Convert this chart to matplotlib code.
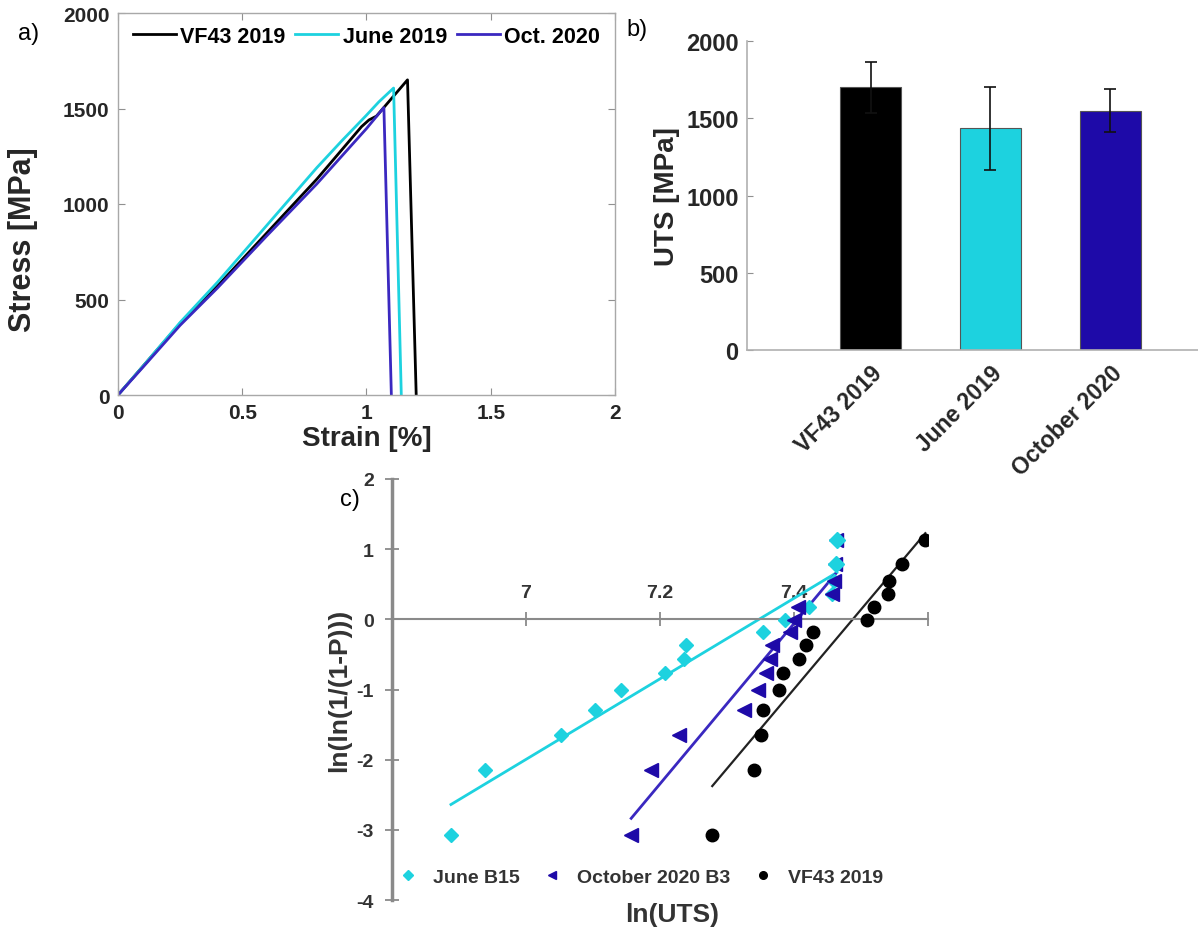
import numpy as np
import matplotlib
matplotlib.use('Agg')
import matplotlib.pyplot as plt
from matplotlib.lines import Line2D

plt.rcParams['font.family'] = ['Liberation Sans', 'DejaVu Sans']
plt.rcParams['axes.unicode_minus'] = False

# a) stress-strain curves
strain_vf43 = [0, 0.1, 0.25, 0.4, 0.6, 0.8, 0.98, 1.01, 1.04, 1.165, 1.20]
stress_vf43 = [0, 150, 375, 570, 850, 1130, 1405, 1440, 1460, 1650, 0]
strain_june = [0, 0.1, 0.25, 0.4, 0.6, 0.8, 0.9, 1.0, 1.05, 1.109, 1.14]
stress_june = [0, 150, 380, 590, 890, 1190, 1330, 1465, 1535, 1607, 0]
strain_oct = [0, 0.1, 0.25, 0.4, 0.6, 0.8, 1.0, 1.07, 1.10]
stress_oct = [0, 145, 365, 560, 835, 1105, 1395, 1505, 0]

# b) UTS bars
bar_labels = ['VF43 2019', 'June 2019', 'October 2020']
uts_mean = [1700, 1435, 1550]
uts_err = [165, 268, 140]

# c) Weibull plot, ln(UTS) per rank
rank_y = [-3.07, -2.15, -1.65, -1.29, -1.01, -0.77, -0.56, -0.37,
          -0.18, -0.01, 0.17, 0.36, 0.55, 0.79, 1.13]
ln_june = [6.888, 6.939, 7.052, 7.103, 7.142, 7.208, 7.236, 7.239,
           7.354, 7.387, 7.422, 7.456, 7.459, 7.463, 7.464]
ln_oct = [7.157, 7.187, 7.228, 7.326, 7.347, 7.358, 7.364, 7.367,
          7.394, 7.400, 7.406, 7.457, 7.459, 7.461, 7.462]
ln_vf43 = [7.278, 7.340, 7.350, 7.353, 7.378, 7.384, 7.407, 7.418,
           7.428, 7.509, 7.519, 7.541, 7.542, 7.561, 7.596]

BLACK = '#000000'
CYAN = '#1dd2df'
BLUE = '#1e0aa8'
BLUE_LINE = '#3a28c0'
W, H = 1198, 928


def frac(x0, y0, x1, y1):
    return [x0 / W, 1 - y1 / H, (x1 - x0) / W, (y1 - y0) / H]


fig = plt.figure(figsize=(W / 100, H / 100), dpi=100)

# ---- a) ----
ax = fig.add_axes(frac(118, 14, 615, 396))
ax.plot(strain_vf43, stress_vf43, color=BLACK, lw=2, label='VF43 2019')
ax.plot(strain_june, stress_june, color=CYAN, lw=2, label='June 2019')
ax.plot(strain_oct, stress_oct, color=BLUE_LINE, lw=2, label='Oct. 2020')
ax.set_xlim(0, 2)
ax.set_ylim(0, 2000)
ax.set_xticks([0, 0.5, 1, 1.5, 2])
ax.set_xticklabels(['0', '0.5', '1', '1.5', '2'])
ax.set_yticks([0, 500, 1000, 1500, 2000])
ax.tick_params(direction='in', top=True, right=True, length=5, width=0.8,
               color='#909090', labelsize=15, pad=6)
for lab in ax.get_xticklabels() + ax.get_yticklabels():
    lab.set_fontweight('bold')
    lab.set_color('#262626')
for s in ax.spines.values():
    s.set_color('#a8a8a8')
    s.set_linewidth(1)
ax.set_xlabel('Strain [%]', fontsize=20, fontweight='bold', color='#262626', labelpad=2)
ax.set_ylabel('Stress [MPa]', fontsize=22, fontweight='bold', color='#262626')
ax.yaxis.set_label_coords(-0.16, 0.41)
ax.legend(loc='upper center', bbox_to_anchor=(0.5, 1.0), ncol=3, frameon=False,
          prop={'weight': 'bold', 'size': 15.5}, handlelength=2.0, handletextpad=0.2,
          columnspacing=0.45, borderaxespad=0.2)
fig.text(18 / W, 1 - 34 / H, 'a)', fontsize=17, va='center', ha='left')

# ---- b) ----
bx = fig.add_axes(frac(747, 42, 1198, 351))
pos = np.arange(1, len(uts_mean) + 1)
bx.bar(pos, uts_mean, width=0.51, color=[BLACK, CYAN, BLUE],
       edgecolor='#555555', linewidth=0.8, zorder=2)
bx.errorbar(pos, uts_mean, yerr=uts_err, fmt='none', ecolor='#111111',
            elinewidth=1.2, capsize=4, capthick=1.2, zorder=3)
bx.set_xlim(-0.03, 3.73)
bx.set_ylim(0, 2000)
bx.set_yticks([0, 500, 1000, 1500, 2000])
bx.set_xticks(pos)
bx.set_xticklabels(bar_labels, rotation=45, ha='right', rotation_mode='anchor')
bx.tick_params(axis='x', length=0, labelsize=16.5, pad=8)
bx.tick_params(axis='y', direction='in', length=4, color='#909090', labelsize=17, pad=6)
for lab in bx.get_xticklabels() + bx.get_yticklabels():
    lab.set_fontweight('bold')
    lab.set_color('#262626')
for k in ['top', 'right']:
    bx.spines[k].set_visible(False)
for k in ['left', 'bottom']:
    bx.spines[k].set_color('#b0b0b0')
    bx.spines[k].set_linewidth(1.2)
bx.set_ylabel('UTS [MPa]', fontsize=20, fontweight='bold', color='#262626', labelpad=4)
fig.text(637 / W, 1 - 30 / H, 'b)', fontsize=17, va='center', ha='center')

# ---- c) ----
cx = fig.add_axes(frac(392, 480, 928, 901))
cx.plot(ln_june, rank_y, linestyle='none', marker='D', ms=7.5, color=CYAN, zorder=3)
cx.plot(ln_oct, rank_y, linestyle='none', marker='<', ms=9.5, color=BLUE, zorder=4)
cx.plot(ln_june[-2:], rank_y[-2:], linestyle='none', marker='D', ms=8, color=CYAN, zorder=5)
cx.plot(ln_vf43, rank_y, linestyle='none', marker='o', ms=9, color=BLACK, zorder=4)
for xs, col, lw in [(ln_june, CYAN, 2), (ln_oct, BLUE_LINE, 2), (ln_vf43, '#222222', 1.6)]:
    k, b0 = np.polyfit(xs, rank_y, 1)
    xx = np.array([min(xs), max(xs)])
    cx.plot(xx, k * xx + b0, color=col, lw=lw, zorder=2)
cx.set_xlim(6.8, 7.6)
cx.set_ylim(-4, 2)
cx.spines['top'].set_position(('data', 0))
cx.spines['bottom'].set_visible(False)
cx.spines['right'].set_visible(False)
cx.spines['top'].set_color('#8a8a8a')
cx.spines['top'].set_linewidth(1.5)
cx.spines['left'].set_color('#8a8a8a')
cx.spines['left'].set_linewidth(2.5)
cx.xaxis.set_ticks_position('top')
cx.set_xticks([6.8, 7.0, 7.2, 7.4, 7.6])
cx.set_xticklabels(['', '7', '7.2', '7.4', ''])
cx.set_yticks([-4, -3, -2, -1, 0, 1, 2])
cx.set_yticklabels(['-4', '-3', '-2', '-1', '0', '1', '2'])
cx.tick_params(direction='inout', length=10, width=1.3, color='#8a8a8a',
               labelsize=14, labelcolor='#333333')
cx.tick_params(axis='x', pad=8)
cx.tick_params(axis='y', pad=8)
for lab in cx.get_xticklabels() + cx.get_yticklabels():
    lab.set_fontweight('bold')
cx.set_ylabel('ln(ln(1/(1-P)))', fontsize=19, fontweight='bold', color='#333333', labelpad=4)
handles = [
    Line2D([], [], linestyle='none', marker='D', ms=5, color=CYAN),
    Line2D([], [], linestyle='none', marker='<', ms=6, color=BLUE),
    Line2D([], [], linestyle='none', marker='o', ms=5.5, color=BLACK),
]
cx.legend(handles, ['June B15', 'October 2020 B3', 'VF43 2019'], loc='center',
          bbox_to_anchor=(0.455, 0.055), ncol=3, frameon=False,
          prop={'weight': 'bold', 'size': 14}, handletextpad=0.3, columnspacing=0.65,
          labelcolor='#333333')
fig.text(672 / W, 1 - 903 / H, 'ln(UTS)', fontsize=19, fontweight='bold',
         color='#333333', ha='center', va='top')
fig.text(340 / W, 1 - 500 / H, 'c)', fontsize=17, va='center', ha='left')

fig.savefig('out.png', dpi=100)
